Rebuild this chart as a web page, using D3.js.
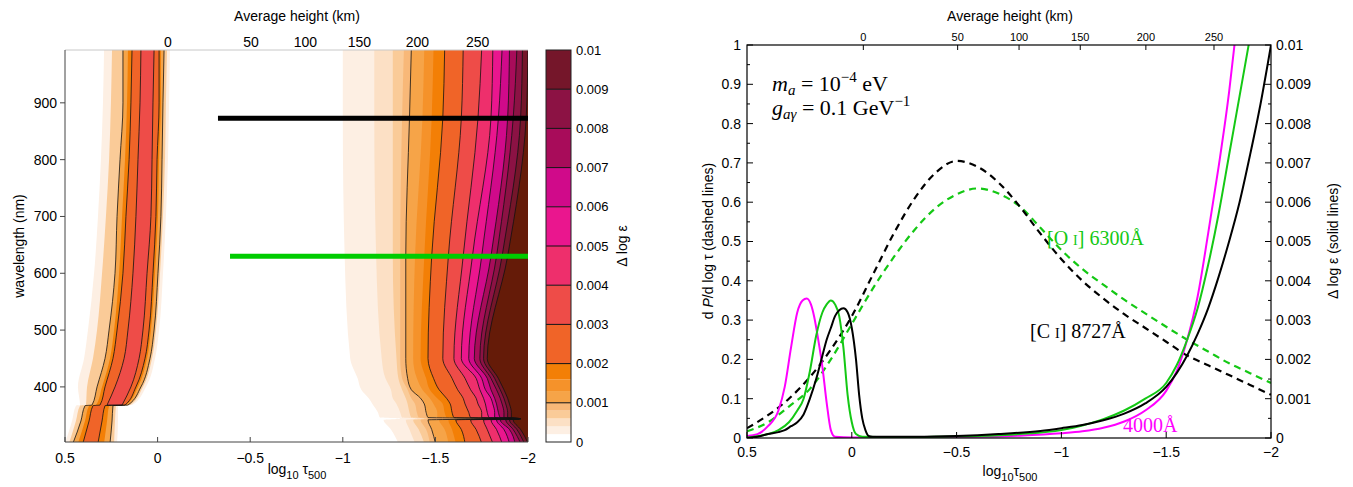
<!DOCTYPE html>
<html><head><meta charset="utf-8">
<script src="https://cdn.jsdelivr.net/npm/d3@7"></script>
<style>
body{margin:0;background:#fff}
svg{display:block}
text{font-family:"Liberation Sans",Arial,Helvetica,sans-serif;fill:#000}
.serif{font-family:"Liberation Serif","DejaVu Serif",serif}
</style>
</head><body><svg id="c" width="1353" height="487"></svg>
<script>
// ---------------- DATA ----------------
// Left panel axes
const wlTicks = [400, 500, 600, 700, 800, 900];
const tauTicks = [0.5, 0, -0.5, -1, -1.5, -2];
const tauTickLabels = ["0.5", "0", "\u22120.5", "\u22121", "\u22121.5", "\u22122"];
const heightTicks = [0, 50, 100, 150, 200, 250];
const heightTau = [-0.055, -0.505, -0.798, -1.09, -1.403, -1.728];
const cbarTicks = [0, 0.001, 0.002, 0.003, 0.004, 0.005, 0.006, 0.007, 0.008, 0.009, 0.01];

// Filled contour levels (Delta log eps) and their colours
const fillLevels = [0.0002, 0.0004, 0.0006, 0.0008, 0.001, 0.0013, 0.0016, 0.002, 0.003, 0.004, 0.005, 0.006, 0.007, 0.008, 0.009, 0.01];
const fillColors = ["#fdefe3", "#fce0c5", "#facb98", "#f8b878", "#f6a448", "#f5922a", "#f37f06", "#f06428", "#ee4c48", "#ee2f6c", "#ea168e", "#d00a8a", "#a80c5a", "#8c1244", "#75162a", "#651b08"];
const lineLevels = [0.001, 0.002, 0.003, 0.004, 0.005, 0.006, 0.007, 0.008, 0.009, 0.01];

// Upper (outer-layer) region: log tau500 position of each contour level vs wavelength (nm)
const rightWl = [995, 873, 630, 450, 415, 395, 380, 370, 355, 346, 344, 342, 325, 301];
const rightEdges = [
  [-1.00, -1.00, -1.01, -1.04, -1.08, -1.10, -1.14, -1.16, -1.19, -1.20, -1.31, -1.22, -1.26, -1.30],
  [-1.17, -1.17, -1.18, -1.21, -1.23, -1.26, -1.27, -1.29, -1.31, -1.32, -1.40, -1.34, -1.36, -1.39],
  [-1.27, -1.27, -1.27, -1.29, -1.30, -1.32, -1.34, -1.35, -1.36, -1.37, -1.44, -1.38, -1.41, -1.44],
  [-1.33, -1.32, -1.31, -1.31, -1.32, -1.35, -1.37, -1.39, -1.40, -1.41, -1.46, -1.42, -1.45, -1.47],
  [-1.37, -1.36, -1.34, -1.34, -1.35, -1.37, -1.42, -1.44, -1.45, -1.46, -1.95, -1.46, -1.48, -1.50],
  [-1.44, -1.43, -1.39, -1.38, -1.40, -1.43, -1.47, -1.49, -1.51, -1.51, -1.95, -1.52, -1.55, -1.57],
  [-1.49, -1.48, -1.44, -1.42, -1.45, -1.47, -1.51, -1.54, -1.55, -1.56, -1.95, -1.57, -1.59, -1.61],
  [-1.55, -1.54, -1.48, -1.46, -1.49, -1.52, -1.56, -1.58, -1.59, -1.60, -1.95, -1.61, -1.64, -1.66],
  [-1.65, -1.64, -1.57, -1.54, -1.59, -1.62, -1.65, -1.66, -1.68, -1.69, -1.95, -1.69, -1.72, -1.75],
  [-1.75, -1.73, -1.65, -1.60, -1.66, -1.69, -1.72, -1.73, -1.75, -1.75, -1.95, -1.76, -1.78, -1.81],
  [-1.81, -1.80, -1.70, -1.64, -1.72, -1.74, -1.76, -1.77, -1.78, -1.79, -1.95, -1.80, -1.83, -1.86],
  [-1.86, -1.84, -1.75, -1.68, -1.75, -1.77, -1.80, -1.81, -1.82, -1.82, -1.95, -1.83, -1.87, -1.90],
  [-1.90, -1.89, -1.80, -1.71, -1.78, -1.80, -1.82, -1.83, -1.84, -1.85, -1.96, -1.85, -1.90, -1.93],
  [-1.94, -1.92, -1.83, -1.74, -1.80, -1.83, -1.85, -1.86, -1.87, -1.87, -1.96, -1.88, -1.92, -1.96],
  [-1.97, -1.96, -1.86, -1.76, -1.82, -1.85, -1.87, -1.88, -1.89, -1.89, -1.96, -1.90, -1.94, -1.98],
  [-2.00, -1.99, -1.89, -1.78, -1.84, -1.87, -1.89, -1.90, -1.91, -1.91, -1.96, -1.92, -1.96, -2.00]
];

// Deep (photospheric) band: left and right log tau edges of each level vs wavelength
const bandWl = [995, 900, 800, 700, 600, 500, 450, 400, 368, 367, 340, 301];
const bandLevels = [0.0002, 0.0006, 0.001, 0.0016, 0.002, 0.003];
const bandLeft = [
  [0.289, 0.295, 0.306, 0.322, 0.343, 0.376, 0.397, 0.430, 0.419, 0.441, 0.462, 0.500],
  [0.246, 0.252, 0.262, 0.279, 0.300, 0.327, 0.349, 0.381, 0.387, 0.419, 0.441, 0.478],
  [0.187, 0.187, 0.203, 0.219, 0.230, 0.262, 0.284, 0.327, 0.354, 0.392, 0.414, 0.457],
  [0.160, 0.165, 0.176, 0.192, 0.208, 0.235, 0.257, 0.300, 0.333, 0.370, 0.392, 0.430],
  [0.138, 0.144, 0.154, 0.171, 0.187, 0.219, 0.241, 0.284, 0.311, 0.349, 0.370, 0.403],
  [0.090, 0.095, 0.106, 0.117, 0.133, 0.160, 0.181, 0.230, 0.273, null, null, null]
];
const bandRight = [
  [-0.067, -0.062, -0.056, -0.045, -0.029, -0.008, 0.014, 0.063, 0.138, 0.214, 0.214, 0.219],
  [-0.051, -0.045, -0.040, -0.029, -0.013, 0.009, 0.030, 0.079, 0.149, 0.225, 0.230, 0.235],
  [-0.035, -0.029, -0.024, -0.018, -0.002, 0.019, 0.041, 0.090, 0.160, 0.241, 0.246, 0.257],
  [-0.018, -0.018, -0.008, -0.002, 0.014, 0.036, 0.057, 0.106, 0.171, 0.262, 0.273, 0.289],
  [-0.008, -0.008, 0.003, 0.009, 0.025, 0.046, 0.068, 0.117, 0.176, 0.284, 0.300, 0.322],
  [0.019, 0.025, 0.030, 0.036, 0.057, 0.079, 0.100, 0.144, 0.192, null, null, null]
];

// Wavelength markers in left panel
const markerWl = [872.7, 630.0];
const markerStart = [-0.326, -0.391];
const markerColors = ["#000000", "#00cc00"];

// Right panel: contribution functions (dashed)
const dashedTau = [0.5, 0.4, 0.3, 0.2, 0.1, 0.0, -0.1, -0.2, -0.3, -0.4, -0.5, -0.6, -0.7, -0.8, -0.9, -1.0, -1.1, -1.2, -1.3, -1.4, -1.5, -1.6, -1.7, -1.8, -1.9, -2.0];
const cIDashed = [0.025, 0.058, 0.10, 0.155, 0.225, 0.31, 0.415, 0.52, 0.61, 0.675, 0.705, 0.69, 0.65, 0.59, 0.52, 0.455, 0.40, 0.355, 0.315, 0.28, 0.245, 0.21, 0.185, 0.16, 0.135, 0.11];
const oIDashed = [0.017, 0.04, 0.08, 0.125, 0.20, 0.29, 0.38, 0.46, 0.53, 0.585, 0.62, 0.635, 0.622, 0.59, 0.535, 0.478, 0.43, 0.39, 0.352, 0.317, 0.283, 0.25, 0.22, 0.19, 0.165, 0.14];

// Right panel: Delta log eps (solid)
const mgSolidTau = [0.5, 0.45, 0.4, 0.35, 0.32, 0.29, 0.26, 0.235, 0.215, 0.195, 0.18, 0.16, 0.14, 0.12, 0.1, 0.08, 0.0, -0.3, -0.6, -0.8, -1.0, -1.1, -1.2, -1.3, -1.4, -1.5, -1.55, -1.6, -1.65, -1.7, -1.75, -1.8, -1.83];
const mgSolid = [0.00005, 0.0001, 0.0003, 0.0007, 0.0013, 0.0023, 0.0032, 0.0035, 0.00355, 0.0034, 0.0031, 0.0025, 0.0018, 0.0009, 0.0002, 0.00003, 0.00001, 0.00002, 0.00003, 0.00006, 0.00012, 0.00017, 0.00026, 0.00042, 0.0007, 0.0012, 0.0017, 0.0025, 0.0036, 0.0052, 0.0069, 0.0088, 0.0102];
const oISolidTau = [0.5, 0.4, 0.35, 0.3, 0.26, 0.23, 0.2, 0.17, 0.14, 0.12, 0.1, 0.08, 0.06, 0.04, 0.02, 0.0, -0.02, -0.05, -0.2, -0.4, -0.6, -0.8, -1.0, -1.1, -1.2, -1.3, -1.4, -1.5, -1.55, -1.6, -1.65, -1.7, -1.75, -1.8, -1.85, -1.9];
const oISolid = [0.00001, 0.0001, 0.0002, 0.0004, 0.0007, 0.001, 0.0017, 0.0026, 0.0032, 0.0034, 0.0035, 0.0034, 0.0031, 0.0023, 0.0011, 0.0004, 0.0001, 0.00003, 0.00002, 0.00003, 0.00005, 0.0001, 0.0002, 0.00032, 0.00048, 0.0007, 0.001, 0.0014, 0.00185, 0.0025, 0.0033, 0.0044, 0.0057, 0.0072, 0.0087, 0.0102];
const cISolidTau = [0.5, 0.45, 0.4, 0.35, 0.32, 0.29, 0.26, 0.23, 0.2, 0.17, 0.14, 0.12, 0.1, 0.08, 0.06, 0.04, 0.02, 0.0, -0.02, -0.035, -0.05, -0.065, -0.08, -0.1, -0.3, -0.5, -0.7, -0.9, -1.0, -1.1, -1.2, -1.3, -1.4, -1.5, -1.55, -1.6, -1.65, -1.7, -1.75, -1.8, -1.85, -1.9, -1.95, -2.0];
const cISolid = [0.0, 0.00003, 0.0001, 0.00015, 0.0002, 0.0003, 0.0004, 0.0006, 0.001, 0.0015, 0.0021, 0.0025, 0.0028, 0.0031, 0.00325, 0.0033, 0.0032, 0.0028, 0.002, 0.0011, 0.0005, 0.0002, 0.00005, 0.00003, 0.00003, 0.00005, 0.0001, 0.00018, 0.00025, 0.00033, 0.00045, 0.00062, 0.00088, 0.0013, 0.00165, 0.0021, 0.00265, 0.0033, 0.0041, 0.005, 0.006, 0.0072, 0.0085, 0.01];

const leftTicksR = [0, 0.1, 0.2, 0.3, 0.4, 0.5, 0.6, 0.7, 0.8, 0.9, 1];
const rightTicksR = [0, 0.001, 0.002, 0.003, 0.004, 0.005, 0.006, 0.007, 0.008, 0.009, 0.01];

// ---------------- DRAW ----------------
const svg = d3.select("#c");
const defs = svg.append("defs");
const fmtTick = v => v === 0 ? "0" : String(+v.toFixed(3));

// ===== LEFT PANEL =====
const xL = d3.scaleLinear().domain([0.5, -2]).range([65, 528]);
const yL = d3.scaleLinear().domain([303, 993]).range([442, 50]);
defs.append("clipPath").attr("id", "clipL").append("rect")
  .attr("x", 65).attr("y", 50).attr("width", 463).attr("height", 392);
const gL = svg.append("g").attr("clip-path", "url(#clipL)");
const cv = d3.curveMonotoneY;

// upper-region fills
fillLevels.forEach((lv, i) => {
  const pts = rightWl.map((w, j) => [w, rightEdges[i][j]]);
  const area = d3.area().curve(cv).y(d => yL(d[0])).x0(d => xL(d[1])).x1(xL(-2.1));
  gL.append("path").attr("d", area(pts)).attr("fill", fillColors[i]);
});
// deep band fills
bandLevels.forEach((lv, i) => {
  const pts = bandWl.map((w, j) => [w, bandLeft[i][j], bandRight[i][j]]);
  const area = d3.area().curve(cv).defined(d => d[1] !== null)
    .y(d => yL(d[0])).x0(d => xL(d[1])).x1(d => xL(d[2]));
  gL.append("path").attr("d", area(pts)).attr("fill", fillColors[fillLevels.indexOf(lv)]);
});
// contour lines
const cline = d3.line().curve(cv).x(d => xL(d[1])).y(d => yL(d[0]));
const strokeLine = (g, d) => g.append("path").attr("d", d).attr("fill", "none")
  .attr("stroke", "#111").attr("stroke-width", 0.8);
lineLevels.forEach(lv => {
  const i = fillLevels.indexOf(lv);
  strokeLine(gL, cline(rightWl.map((w, j) => [w, rightEdges[i][j]])));
});
bandLevels.filter(lv => lineLevels.includes(lv)).forEach(lv => {
  const i = bandLevels.indexOf(lv);
  const L = bandWl.map((w, j) => [w, bandLeft[i][j]]).filter(d => d[1] !== null);
  const R = bandWl.map((w, j) => [w, bandRight[i][j]]).filter(d => d[1] !== null);
  strokeLine(gL, cline(L));
  strokeLine(gL, cline(R));
  const a = L[L.length - 1], b = R[R.length - 1];
  strokeLine(gL, d3.line().x(d => xL(d[1])).y(d => yL(d[0]))([a, b]));
});
// wavelength markers
markerWl.forEach((w, i) => {
  gL.append("line").attr("x1", xL(markerStart[i])).attr("x2", xL(-2))
    .attr("y1", yL(w)).attr("y2", yL(w))
    .attr("stroke", markerColors[i]).attr("stroke-width", 5);
});
// frame
svg.append("line").attr("x1", 65).attr("x2", 528).attr("y1", 50).attr("y2", 50).attr("stroke", "#c8c8c8");
svg.append("line").attr("x1", 65).attr("x2", 65).attr("y1", 50).attr("y2", 442).attr("stroke", "#444");
svg.append("line").attr("x1", 65).attr("x2", 528).attr("y1", 442).attr("y2", 442).attr("stroke", "#444");
wlTicks.forEach(w => {
  svg.append("line").attr("x1", 60).attr("x2", 65).attr("y1", yL(w)).attr("y2", yL(w)).attr("stroke", "#444");
  svg.append("text").attr("x", 57).attr("y", yL(w)).attr("dy", "0.35em").attr("text-anchor", "end")
    .attr("font-size", 14).text(w);
});
tauTicks.forEach((t, i) => {
  svg.append("line").attr("x1", xL(t)).attr("x2", xL(t)).attr("y1", 442).attr("y2", 437).attr("stroke", "#444");
  svg.append("text").attr("x", xL(t)).attr("y", 463).attr("text-anchor", "middle")
    .attr("font-size", 14).text(tauTickLabels[i]);
});
heightTicks.forEach((h, i) => {
  svg.append("text").attr("x", xL(heightTau[i])).attr("y", 47).attr("text-anchor", "middle")
    .attr("font-size", 14).text(h);
});
svg.append("text").attr("x", 297).attr("y", 21).attr("text-anchor", "middle").attr("font-size", 14).text("Average height (km)");
svg.append("text").attr("transform", "translate(24,246) rotate(-90)").attr("text-anchor", "middle")
  .attr("font-size", 14).text("wavelength (nm)");
{
  const t = svg.append("text").attr("x", 297).attr("y", 474).attr("text-anchor", "middle").attr("font-size", 14);
  t.append("tspan").text("log");
  t.append("tspan").attr("font-size", 11).attr("dy", 5).text("10");
  t.append("tspan").attr("dy", -5).text(" \u03c4");
  t.append("tspan").attr("font-size", 11).attr("dy", 5).text("500");
}

// colorbar
const yC = d3.scaleLinear().domain([0, 0.01]).range([442, 50]);
const cbX = 546, cbW = 25;
const cbBands = [[0, fillLevels[0], "#ffffff"]].concat(
  fillLevels.slice(0, -1).map((lv, i) => [lv, fillLevels[i + 1], fillColors[i]]));
cbBands.forEach(b => {
  svg.append("rect").attr("x", cbX).attr("width", cbW)
    .attr("y", yC(b[1])).attr("height", yC(b[0]) - yC(b[1])).attr("fill", b[2]);
});
lineLevels.slice(0, -1).forEach(lv => {
  svg.append("line").attr("x1", cbX).attr("x2", cbX + cbW).attr("y1", yC(lv)).attr("y2", yC(lv))
    .attr("stroke", "#111").attr("stroke-width", 1);
});
svg.append("rect").attr("x", cbX).attr("y", 50).attr("width", cbW).attr("height", 392)
  .attr("fill", "none").attr("stroke", "#222").attr("stroke-width", 1);
cbarTicks.forEach(v => {
  svg.append("text").attr("x", 576).attr("y", yC(v)).attr("dy", "0.35em").attr("font-size", 13).text(fmtTick(v));
});
svg.append("text").attr("transform", "translate(627,246) rotate(-90)").attr("text-anchor", "middle")
  .attr("font-size", 14).text("\u0394 log \u03b5");

// ===== RIGHT PANEL =====
const xR = d3.scaleLinear().domain([0.5, -2]).range([747, 1271]);
const yR = d3.scaleLinear().domain([0, 1]).range([438, 45]);
const yR2 = d3.scaleLinear().domain([0, 0.01]).range([438, 45]);
defs.append("clipPath").attr("id", "clipR").append("rect")
  .attr("x", 747).attr("y", 45).attr("width", 524).attr("height", 393);
const gR = svg.append("g").attr("clip-path", "url(#clipR)");
const lineR = d3.line().x(d => xR(d[0])).y(d => yR(d[1])).curve(d3.curveMonotoneX);
const lineR2 = d3.line().x(d => xR(d[0])).y(d => yR2(d[1])).curve(d3.curveMonotoneX);
const green = "#14c814", magenta = "#ff00ff";
const pairs = (tt, vv) => tt.map((t, i) => [t, vv[i]]);
gR.append("path").attr("d", lineR(pairs(dashedTau, oIDashed))).attr("fill", "none").attr("stroke", green)
  .attr("stroke-width", 2.2).attr("stroke-dasharray", "7,5");
gR.append("path").attr("d", lineR(pairs(dashedTau, cIDashed))).attr("fill", "none").attr("stroke", "#000")
  .attr("stroke-width", 2.2).attr("stroke-dasharray", "7,5");
gR.append("path").attr("d", lineR2(pairs(mgSolidTau, mgSolid))).attr("fill", "none").attr("stroke", magenta).attr("stroke-width", 2);
gR.append("path").attr("d", lineR2(pairs(oISolidTau, oISolid))).attr("fill", "none").attr("stroke", green).attr("stroke-width", 2);
gR.append("path").attr("d", lineR2(pairs(cISolidTau, cISolid))).attr("fill", "none").attr("stroke", "#000").attr("stroke-width", 2);

svg.append("rect").attr("x", 747).attr("y", 45).attr("width", 524).attr("height", 393)
  .attr("fill", "none").attr("stroke", "#000").attr("stroke-width", 1.2);
leftTicksR.forEach((v, i) => {
  svg.append("line").attr("x1", 747).attr("x2", 753).attr("y1", yR(v)).attr("y2", yR(v)).attr("stroke", "#000");
  if (i < leftTicksR.length - 1) {
    const m = v + 0.05;
    svg.append("line").attr("x1", 747).attr("x2", 750).attr("y1", yR(m)).attr("y2", yR(m)).attr("stroke", "#000");
  }
  svg.append("text").attr("x", 741).attr("y", yR(v)).attr("dy", "0.35em").attr("text-anchor", "end")
    .attr("font-size", 14).text(fmtTick(v));
});
rightTicksR.forEach((v, i) => {
  svg.append("line").attr("x1", 1265).attr("x2", 1271).attr("y1", yR2(v)).attr("y2", yR2(v)).attr("stroke", "#000");
  if (i < rightTicksR.length - 1) {
    const m = v + 0.0005;
    svg.append("line").attr("x1", 1268).attr("x2", 1271).attr("y1", yR2(m)).attr("y2", yR2(m)).attr("stroke", "#000");
  }
  svg.append("text").attr("x", 1276).attr("y", yR2(v)).attr("dy", "0.35em").attr("font-size", 14).text(fmtTick(v));
});
tauTicks.forEach((t, i) => {
  svg.append("line").attr("x1", xR(t)).attr("x2", xR(t)).attr("y1", 438).attr("y2", 432).attr("stroke", "#000");
  svg.append("text").attr("x", xR(t)).attr("y", 457).attr("text-anchor", "middle")
    .attr("font-size", 14).text(tauTickLabels[i]);
});
heightTicks.forEach((h, i) => {
  svg.append("line").attr("x1", xR(heightTau[i])).attr("x2", xR(heightTau[i])).attr("y1", 45).attr("y2", 50).attr("stroke", "#000");
  svg.append("text").attr("x", xR(heightTau[i])).attr("y", 41).attr("text-anchor", "middle")
    .attr("font-size", 11).text(h);
});
svg.append("text").attr("x", 1010).attr("y", 21).attr("text-anchor", "middle").attr("font-size", 14).text("Average height (km)");
{
  const t = svg.append("text").attr("x", 1010).attr("y", 476).attr("text-anchor", "middle").attr("font-size", 14);
  t.append("tspan").text("log");
  t.append("tspan").attr("font-size", 11).attr("dy", 5).text("10");
  t.append("tspan").attr("dy", -5).text("\u03c4");
  t.append("tspan").attr("font-size", 11).attr("dy", 5).text("500");
}
{
  const t = svg.append("text").attr("transform", "translate(713,241) rotate(-90)").attr("text-anchor", "middle").attr("font-size", 14);
  t.append("tspan").text("d ");
  t.append("tspan").attr("font-style", "italic").text("P");
  t.append("tspan").text("/d log \u03c4 (dashed lines)");
}
svg.append("text").attr("transform", "translate(1338,241) rotate(-90)").attr("text-anchor", "middle")
  .attr("font-size", 14).text("\u0394 log \u03b5 (solid lines)");

// annotations
{
  const t = svg.append("text").attr("class", "serif").attr("x", 772).attr("y", 91).attr("font-size", 22);
  t.append("tspan").attr("font-style", "italic").text("m");
  t.append("tspan").attr("font-style", "italic").attr("font-size", 15).attr("dy", 4).text("a");
  t.append("tspan").attr("dy", -4).text(" = 10");
  t.append("tspan").attr("font-size", 15).attr("dy", -9).text("\u22124");
  t.append("tspan").attr("dy", 9).text(" eV");
  const g = svg.append("text").attr("class", "serif").attr("x", 772).attr("y", 115).attr("font-size", 22);
  g.append("tspan").attr("font-style", "italic").text("g");
  g.append("tspan").attr("font-style", "italic").attr("font-size", 15).attr("dy", 4).text("a\u03b3");
  g.append("tspan").attr("dy", -4).text(" = 0.1 GeV");
  g.append("tspan").attr("font-size", 15).attr("dy", -9).text("\u22121");
}
function lineLabel(x, y, el, wl, col) {
  const t = svg.append("text").attr("class", "serif").attr("x", x).attr("y", y).attr("font-size", 20).style("fill", col);
  t.append("tspan").text("[" + el + " ");
  t.append("tspan").attr("font-size", 14).text("I");
  t.append("tspan").text("] " + wl + "\u00c5");
}
lineLabel(1047, 245, "O", "6300", green);
lineLabel(1030, 338, "C", "8727", "#000");
svg.append("text").attr("class", "serif").attr("x", 1123).attr("y", 432).attr("font-size", 20)
  .style("fill", magenta).text("4000\u00c5");
</script>
</body></html>
